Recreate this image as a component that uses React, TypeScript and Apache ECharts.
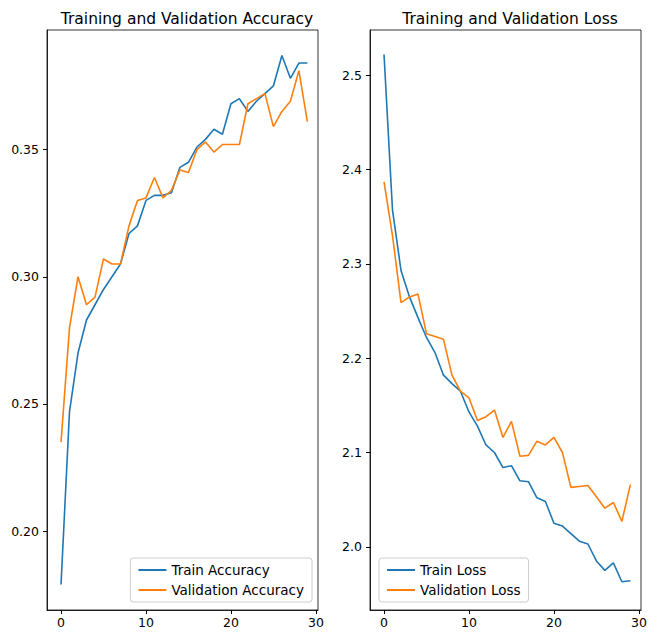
import { useEffect, useRef } from 'react';
import * as echarts from 'echarts';

const epochs = Array.from({ length: 30 }, (_, i) => i);

const trainAcc = [0.179, 0.247, 0.270, 0.283, 0.289, 0.295, 0.300, 0.305, 0.317, 0.320, 0.330, 0.332, 0.332, 0.333, 0.343, 0.345, 0.351, 0.354, 0.358, 0.356, 0.368, 0.370, 0.365, 0.369, 0.372, 0.375, 0.387, 0.378, 0.384, 0.384];
const valAcc = [0.235, 0.280, 0.300, 0.289, 0.292, 0.307, 0.305, 0.305, 0.320, 0.330, 0.331, 0.339, 0.331, 0.334, 0.342, 0.341, 0.350, 0.353, 0.349, 0.352, 0.352, 0.352, 0.368, 0.370, 0.372, 0.359, 0.365, 0.369, 0.381, 0.361];
const trainLoss = [2.522, 2.357, 2.293, 2.265, 2.243, 2.222, 2.206, 2.182, 2.173, 2.165, 2.143, 2.128, 2.108, 2.100, 2.084, 2.086, 2.070, 2.069, 2.052, 2.048, 2.025, 2.022, 2.014, 2.006, 2.003, 1.985, 1.975, 1.983, 1.963, 1.964];
const valLoss = [2.387, 2.330, 2.259, 2.265, 2.268, 2.226, 2.223, 2.220, 2.182, 2.165, 2.158, 2.134, 2.138, 2.145, 2.116, 2.133, 2.096, 2.097, 2.112, 2.108, 2.116, 2.100, 2.063, 2.064, 2.065, 2.053, 2.041, 2.047, 2.027, 2.066];

const xTicks = [0, 10, 20, 30];
const accTicks = [0.20, 0.25, 0.30, 0.35];
const lossTicks = [2.0, 2.1, 2.2, 2.3, 2.4, 2.5];

const BLUE = '#1f77b4';
const ORANGE = '#ff7f0e';
const FONT = 'DejaVu Sans';

const pairs = (ys: number[]) => epochs.map((x, i) => [x, ys[i]]);

function xAxis(gridIndex: number) {
  return {
    type: 'value', gridIndex, min: -1.65, max: 30.25,
    axisLine: { onZero: false, lineStyle: { color: '#000', width: 0.8 } },
    splitLine: { show: false },
    axisTick: { inside: false, length: 4, customValues: xTicks, lineStyle: { color: '#000' } },
    axisLabel: { customValues: xTicks, color: '#000', fontSize: 12.5, fontFamily: FONT, margin: 6 },
  };
}

function yAxis(gridIndex: number, min: number, max: number, ticks: number[], digits: number) {
  return {
    type: 'value', gridIndex, min, max,
    axisLine: { show: true, onZero: false, lineStyle: { color: '#000', width: 0.8 } },
    splitLine: { show: false },
    axisTick: { show: true, length: 4, customValues: ticks, lineStyle: { color: '#000' } },
    axisLabel: { customValues: ticks, color: '#000', fontSize: 12.5, fontFamily: FONT, formatter: (v: number) => v.toFixed(digits) },
  };
}

function line(name: string, ys: number[], color: string, idx: number) {
  return {
    name, type: 'line', data: pairs(ys), xAxisIndex: idx, yAxisIndex: idx,
    showSymbol: false, lineStyle: { color, width: 1.6 }, itemStyle: { color },
  };
}

const legendBase = {
  orient: 'vertical', icon: 'rect', itemWidth: 28, itemHeight: 2, itemGap: 6,
  padding: [5, 8, 5, 8], borderColor: '#ccc', borderWidth: 1, borderRadius: 3,
  backgroundColor: '#fff', textStyle: { fontSize: 13.5, fontFamily: FONT, color: '#000' },
};

const titleStyle = { fontSize: 15.5, fontWeight: 'normal', fontFamily: FONT, color: '#000' };

export default function App() {
  const ref = useRef<HTMLDivElement>(null);

  useEffect(() => {
    if (!ref.current) return;
    const chart = echarts.init(ref.current, null, { renderer: 'svg' });
    chart.setOption({
      animation: false,
      backgroundColor: '#fff',
      title: [
        { text: 'Training and Validation Accuracy', left: 182, top: 6, textAlign: 'center', textStyle: titleStyle },
        { text: 'Training and Validation Loss', left: 505, top: 6, textAlign: 'center', textStyle: titleStyle },
      ],
      grid: [
        { left: 47, top: 30, width: 271, height: 580, show: true, borderColor: '#000', borderWidth: 0.8 },
        { left: 370, top: 30, width: 271, height: 580, show: true, borderColor: '#000', borderWidth: 0.8 },
      ],
      xAxis: [xAxis(0), xAxis(1)],
      yAxis: [yAxis(0, 0.169, 0.397, accTicks, 2), yAxis(1, 1.933, 2.548, lossTicks, 1)],
      legend: [
        { ...legendBase, data: ['Train Accuracy', 'Validation Accuracy'], right: 346, bottom: 39 },
        { ...legendBase, data: ['Train Loss', 'Validation Loss'], left: 379, bottom: 39 },
      ],
      series: [
        line('Train Accuracy', trainAcc, BLUE, 0),
        line('Validation Accuracy', valAcc, ORANGE, 0),
        line('Train Loss', trainLoss, BLUE, 1),
        line('Validation Loss', valLoss, ORANGE, 1),
      ],
    });
    return () => chart.dispose();
  }, []);

  return <div ref={ref} style={{ position: 'fixed', left: 0, top: 0, width: 658, height: 641 }} />;
}
